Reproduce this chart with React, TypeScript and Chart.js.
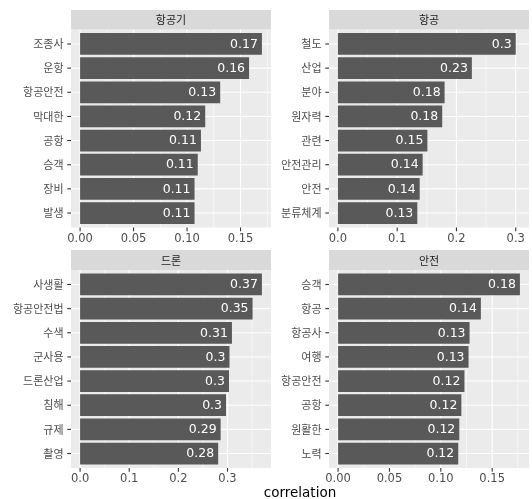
import React, { useEffect, useRef } from "react";
import { Chart, registerables } from "chart.js";

Chart.register(...registerables);

// ---------- data ----------
const panelTitles = ["항공기", "항공", "드론", "안전"];

const cats1 = ["조종사", "운항", "항공안전", "막대한", "공항", "승객", "장비", "발생"];
const vals1 = [0.170, 0.158, 0.131, 0.117, 0.113, 0.110, 0.107, 0.107];

const cats2 = ["철도", "산업", "분야", "원자력", "관련", "안전관리", "안전", "분류체계"];
const vals2 = [0.300, 0.226, 0.180, 0.176, 0.151, 0.143, 0.138, 0.134];

const cats3 = ["사생활", "항공안전법", "수색", "군사용", "드론산업", "침해", "규제", "촬영"];
const vals3 = [0.370, 0.351, 0.309, 0.304, 0.303, 0.297, 0.286, 0.281];

const cats4 = ["승객", "항공", "항공사", "여행", "항공안전", "공항", "원활한", "노력"];
const vals4 = [0.177, 0.139, 0.128, 0.127, 0.123, 0.120, 0.118, 0.117];

const ticks1 = [0, 0.05, 0.1, 0.15];
const ticks2 = [0, 0.1, 0.2, 0.3];
const ticks3 = [0, 0.1, 0.2, 0.3];
const ticks4 = [0, 0.05, 0.1, 0.15];
const tickDecimals = [2, 1, 1, 2];

const axisTitle = "correlation";

// ---------- layout / style ----------
const W = 532;
const H = 499;
const COLS = [
  [71, 271],
  [329, 529],
];
const ROWS = [
  { stripTop: 10, top: 29.5, bottom: 227.5 },
  { stripTop: 250, top: 270, bottom: 468 },
];
const FONT = "'DejaVu Sans', 'Noto Sans CJK KR', sans-serif";
const KFONT = "'Noto Sans CJK KR', 'DejaVu Sans', sans-serif";
const BAR = "#595959";
const PANEL_BG = "#EBEBEB";
const STRIP_BG = "#D9D9D9";
const TICK_COL = "#4D4D4D";
const TICKMARK = "#333333";
const X_AXIS_H = 30;

type PanelDef = {
  title: string;
  cats: string[];
  vals: number[];
  ticks: number[];
  dec: number;
  col: number[];
  row: { stripTop: number; top: number; bottom: number };
};

const panels: PanelDef[] = [
  { title: panelTitles[0], cats: cats1, vals: vals1, ticks: ticks1, dec: tickDecimals[0], col: COLS[0], row: ROWS[0] },
  { title: panelTitles[1], cats: cats2, vals: vals2, ticks: ticks2, dec: tickDecimals[1], col: COLS[1], row: ROWS[0] },
  { title: panelTitles[2], cats: cats3, vals: vals3, ticks: ticks3, dec: tickDecimals[2], col: COLS[0], row: ROWS[1] },
  { title: panelTitles[3], cats: cats4, vals: vals4, ticks: ticks4, dec: tickDecimals[3], col: COLS[1], row: ROWS[1] },
];

function makeChart(canvas: HTMLCanvasElement, p: PanelDef) {
  const [left, right] = p.col;
  const { stripTop, top, bottom } = p.row;
  const n = p.cats.length;
  const unit = (bottom - top) / (n - 1 + 1.2);
  const off = unit * 0.1;
  const innerTop = top + off;
  const innerBottom = bottom - off;
  const maxV = Math.max(...p.vals);
  const xMin = -0.05 * maxV;
  const xMax = maxV * 1.05;
  const step = p.ticks[1] - p.ticks[0];
  const minor: number[] = [];
  for (let i = 0; i < p.ticks.length; i++) {
    const m = p.ticks[i] + step / 2;
    if (m > xMin && m < xMax) minor.push(m);
  }

  const panelPlugin = {
    id: "panelDecor" + p.title,
    beforeDraw(chart: any) {
      const ctx = chart.ctx;
      const xs = chart.scales.x;
      const ys = chart.scales.y;
      ctx.save();
      // panel background
      ctx.fillStyle = PANEL_BG;
      ctx.fillRect(left, top, right - left, bottom - top);
      // minor grid
      ctx.strokeStyle = "#FFFFFF";
      ctx.lineWidth = 0.55;
      minor.forEach((v) => {
        const x = xs.getPixelForValue(v);
        ctx.beginPath();
        ctx.moveTo(x, top);
        ctx.lineTo(x, bottom);
        ctx.stroke();
      });
      // major grid
      ctx.lineWidth = 1.1;
      p.ticks.forEach((v) => {
        const x = xs.getPixelForValue(v);
        ctx.beginPath();
        ctx.moveTo(x, top);
        ctx.lineTo(x, bottom);
        ctx.stroke();
      });
      p.cats.forEach((_, i) => {
        const y = ys.getPixelForValue(i);
        ctx.beginPath();
        ctx.moveTo(left, y);
        ctx.lineTo(right, y);
        ctx.stroke();
      });
      // tick marks
      ctx.strokeStyle = TICKMARK;
      ctx.lineWidth = 1.1;
      p.ticks.forEach((v) => {
        const x = xs.getPixelForValue(v);
        ctx.beginPath();
        ctx.moveTo(x, bottom);
        ctx.lineTo(x, bottom + 3.7);
        ctx.stroke();
      });
      p.cats.forEach((_, i) => {
        const y = ys.getPixelForValue(i);
        ctx.beginPath();
        ctx.moveTo(left - 3.7, y);
        ctx.lineTo(left, y);
        ctx.stroke();
      });
      // strip
      ctx.fillStyle = STRIP_BG;
      ctx.fillRect(left, stripTop, right - left, top - stripTop);
      ctx.fillStyle = "#1A1A1A";
      ctx.font = `11px ${KFONT}`;
      ctx.textAlign = "center";
      ctx.textBaseline = "middle";
      ctx.fillText(p.title, (left + right) / 2, (stripTop + top) / 2 + 0.5);
      ctx.restore();
    },
    afterDatasetsDraw(chart: any) {
      const ctx = chart.ctx;
      const meta = chart.getDatasetMeta(0);
      ctx.save();
      ctx.fillStyle = "#FFFFFF";
      ctx.font = `12.5px ${FONT}`;
      ctx.textAlign = "right";
      ctx.textBaseline = "middle";
      meta.data.forEach((bar: any, i: number) => {
        const v = p.vals[i];
        const label = String(Math.round(v * 100) / 100);
        ctx.fillText(label, bar.x - 4, bar.y + 0.5);
      });
      ctx.restore();
    },
  };

  return new Chart(canvas, {
    type: "bar",
    data: {
      labels: p.cats,
      datasets: [
        {
          data: p.vals,
          backgroundColor: BAR,
          borderWidth: 0,
          barPercentage: 0.9,
          categoryPercentage: 1,
        },
      ],
    },
    options: {
      indexAxis: "y",
      responsive: false,
      animation: false,
      events: [],
      layout: {
        padding: {
          left: 0,
          right: W - right,
          top: innerTop,
          bottom: H - innerBottom - X_AXIS_H,
        },
      },
      plugins: {
        legend: { display: false },
        tooltip: { enabled: false },
        title: { display: false },
      },
      scales: {
        x: {
          type: "linear",
          position: "bottom",
          min: xMin,
          max: xMax,
          grid: { display: false, drawTicks: false },
          border: { display: false },
          afterBuildTicks: (s: any) => {
            s.ticks = p.ticks.map((v) => ({ value: v }));
          },
          afterFit: (s: any) => {
            s.height = X_AXIS_H;
          },
          ticks: {
            autoSkip: false,
            maxRotation: 0,
            padding: 7,
            color: TICK_COL,
            font: { family: FONT, size: 11.5 },
            callback: (v: any) => Number(v).toFixed(p.dec),
          },
        },
        y: {
          type: "category",
          position: "left",
          grid: { display: false, drawTicks: false },
          border: { display: false },
          afterFit: (s: any) => {
            s.width = left;
          },
          ticks: {
            autoSkip: false,
            padding: 7.5,
            color: TICK_COL,
            font: { family: KFONT, size: 11 },
          },
        },
      },
    },
    plugins: [panelPlugin],
  } as any);
}

export default function App() {
  const refs = [useRef<HTMLCanvasElement>(null), useRef<HTMLCanvasElement>(null), useRef<HTMLCanvasElement>(null), useRef<HTMLCanvasElement>(null)];
  useEffect(() => {
    const charts = panels.map((p, i) => makeChart(refs[i].current as HTMLCanvasElement, p));
    return () => charts.forEach((c) => c.destroy());
  }, []);
  return (
    <div style={{ position: "fixed", left: 0, top: 0, width: W, height: H, background: "#FFFFFF", overflow: "hidden" }}>
      {panels.map((p, i) => (
        <canvas
          key={p.title}
          ref={refs[i]}
          width={W}
          height={H}
          style={{ position: "absolute", left: 0, top: 0, width: W, height: H }}
        />
      ))}
      <div
        style={{
          position: "absolute",
          left: COLS[0][0],
          width: COLS[1][1] - COLS[0][0],
          top: 483,
          textAlign: "center",
          fontFamily: FONT,
          fontSize: 13.5,
          lineHeight: "18px",
          color: "#000000",
        }}
      >
        {axisTitle}
      </div>
    </div>
  );
}
